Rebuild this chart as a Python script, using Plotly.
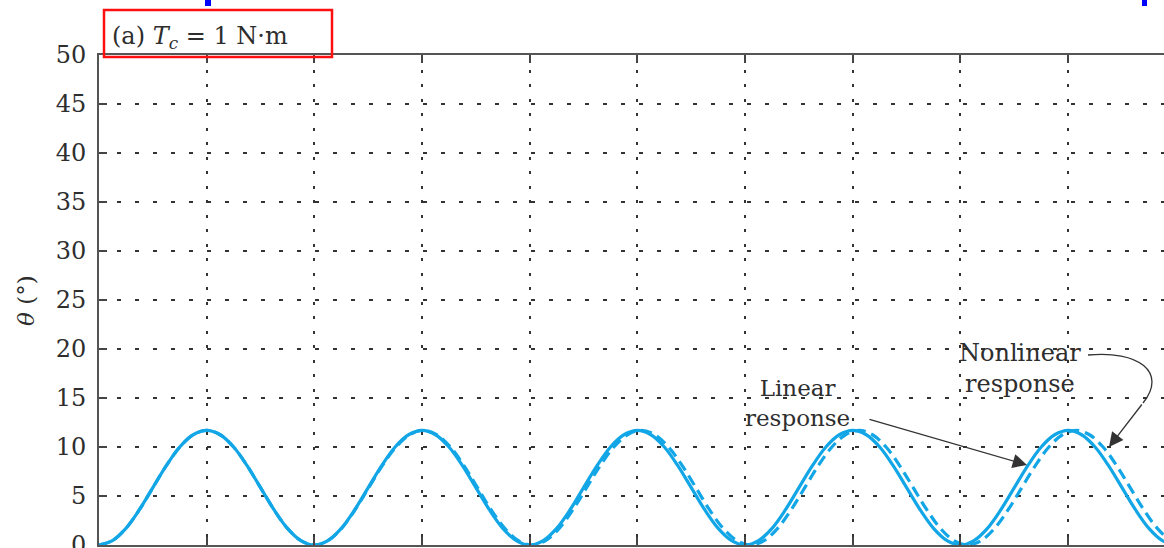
import plotly.graph_objects as go

# ---------------- data ----------------
time_linear = [0.0, 0.125, 0.25, 0.375, 0.5, 0.625, 0.75, 0.875,
               1.0, 1.125, 1.25, 1.375, 1.5, 1.625, 1.75, 1.875,
               2.0, 2.125, 2.25, 2.375, 2.5, 2.625, 2.75, 2.875,
               3.0, 3.125, 3.25, 3.375, 3.5, 3.625, 3.75, 3.875,
               4.0, 4.125, 4.25, 4.375, 4.5, 4.625, 4.75, 4.875,
               5.0, 5.125, 5.25, 5.375, 5.5, 5.625, 5.75, 5.875,
               6.0, 6.125, 6.25, 6.375, 6.5, 6.625, 6.75, 6.875,
               7.0, 7.125, 7.25, 7.375, 7.5, 7.625, 7.75, 7.875,
               8.0, 8.125, 8.25, 8.375, 8.5, 8.625, 8.75, 8.875,
               9.0, 9.125, 9.25, 9.375, 9.5, 9.625, 9.75, 9.875, 10.0]
theta_linear = [0.0, 0.45, 1.7, 3.6, 5.85, 8.1, 10.0, 11.25,
                11.7, 11.25, 10.0, 8.1, 5.85, 3.6, 1.7, 0.45,
                0.0, 0.45, 1.7, 3.6, 5.85, 8.1, 10.0, 11.25,
                11.7, 11.25, 10.0, 8.1, 5.85, 3.6, 1.7, 0.45,
                0.0, 0.45, 1.7, 3.6, 5.85, 8.1, 10.0, 11.25,
                11.7, 11.25, 10.0, 8.1, 5.85, 3.6, 1.7, 0.45,
                0.0, 0.45, 1.7, 3.6, 5.85, 8.1, 10.0, 11.25,
                11.7, 11.25, 10.0, 8.1, 5.85, 3.6, 1.7, 0.45,
                0.0, 0.45, 1.7, 3.6, 5.85, 8.1, 10.0, 11.25,
                11.7, 11.25, 10.0, 8.1, 5.85, 3.6, 1.7, 0.45, 0.0]

time_nonlinear = [0.0, 0.125, 0.25, 0.375, 0.5, 0.625, 0.75, 0.875,
                  1.0, 1.125, 1.25, 1.375, 1.5, 1.625, 1.75, 1.875,
                  2.0, 2.126, 2.253, 2.379, 2.505, 2.631, 2.758, 2.884,
                  3.01, 3.136, 3.263, 3.389, 3.515, 3.641, 3.768, 3.894,
                  4.02, 4.147, 4.274, 4.401, 4.528, 4.654, 4.781, 4.908,
                  5.035, 5.162, 5.289, 5.416, 5.543, 5.669, 5.796, 5.923,
                  6.05, 6.176, 6.302, 6.428, 6.554, 6.68, 6.806, 6.932,
                  7.058, 7.183, 7.309, 7.435, 7.561, 7.687, 7.813, 7.939,
                  8.065, 8.191, 8.317, 8.443, 8.569, 8.695, 8.821, 8.947,
                  9.073, 9.198, 9.324, 9.45, 9.576, 9.702, 9.828, 9.954, 10.08]
theta_nonlinear = [0.0, 0.45, 1.7, 3.6, 5.85, 8.1, 10.0, 11.25,
                   11.7, 11.25, 10.0, 8.1, 5.85, 3.6, 1.7, 0.45,
                   0.0, 0.45, 1.7, 3.6, 5.85, 8.1, 10.0, 11.25,
                   11.7, 11.25, 10.0, 8.1, 5.85, 3.6, 1.7, 0.45,
                   0.0, 0.45, 1.7, 3.6, 5.85, 8.1, 10.0, 11.25,
                   11.7, 11.25, 10.0, 8.1, 5.85, 3.6, 1.7, 0.45,
                   0.0, 0.45, 1.7, 3.6, 5.85, 8.1, 10.0, 11.25,
                   11.7, 11.25, 10.0, 8.1, 5.85, 3.6, 1.7, 0.45,
                   0.0, 0.45, 1.7, 3.6, 5.85, 8.1, 10.0, 11.25,
                   11.7, 11.25, 10.0, 8.1, 5.85, 3.6, 1.7, 0.45, 0.0]

y_ticks = [0, 5, 10, 15, 20, 25, 30, 35, 40, 45, 50]
x_ticks = [1, 2, 3, 4, 5, 6, 7, 8, 9]

# ---------------- layout constants ----------------
W, H = 1164, 548
L, T, R, B = 99, 55, 0, 3
PW, PH = W - L - R, H - T - B
X_MAX = 9.89

CURVE = "#12a6e6"
SERIF = "DejaVu Serif, Liberation Serif, serif"
TXT = "#2e2e2e"


def px(x):
    return (x - L) / PW


def py(y):
    return (H - B - y) / PH


fig = go.Figure()
fig.add_trace(go.Scatter(x=time_linear, y=theta_linear, mode="lines",
                         line=dict(color=CURVE, width=3.2, shape="spline", smoothing=1.0),
                         name="Linear response", showlegend=False))
fig.add_trace(go.Scatter(x=time_nonlinear, y=theta_nonlinear, mode="lines",
                         line=dict(color=CURVE, width=3.2, dash="11px,6px",
                                   shape="spline", smoothing=1.0),
                         name="Nonlinear response", showlegend=False))

fig.update_layout(
    width=W, height=H,
    margin=dict(l=L, r=R, t=T, b=B, pad=0, autoexpand=False),
    paper_bgcolor="white", plot_bgcolor="white",
    font=dict(family=SERIF, color=TXT),
    showlegend=False,
    xaxis=dict(range=[0, X_MAX], tickvals=x_ticks, showticklabels=False,
               automargin=False,
               ticks="inside", ticklen=8, tickwidth=1.6, tickcolor="#444",
               showline=True, linecolor="#555", linewidth=2, mirror="ticks",
               showgrid=True, gridcolor="#333", gridwidth=1.5, griddash="3px,11.5px",
               zeroline=False),
    yaxis=dict(range=[0, 50], tickvals=y_ticks, ticks="inside", ticklen=8,
               automargin=False,
               tickwidth=1.6, tickcolor="#444",
               tickfont=dict(family=SERIF, size=24, color=TXT),
               ticklabelstandoff=6, ticklabeloverflow="allow",
               showline=True, linecolor="#555", linewidth=2, mirror=False,
               showgrid=True, gridcolor="#333", gridwidth=1.5, griddash="4px,14px",
               zeroline=False),
)

shapes = []
# red title box
shapes.append(dict(type="rect", xref="paper", yref="paper",
                   x0=px(104), x1=px(332), y0=py(57), y1=py(10),
                   line=dict(color="#ff1010", width=2.5), fillcolor="rgba(0,0,0,0)"))
# blue marks at the top edge
for x0, x1 in [(205, 211), (1142, 1147)]:
    shapes.append(dict(type="rect", xref="paper", yref="paper",
                       x0=px(x0), x1=px(x1), y0=py(6), y1=py(-2),
                       line=dict(width=0), fillcolor="#0000ff"))
# curved part of the nonlinear arrow
p0 = (px(1088), py(355))
c1 = (px(1138), py(350))
c2 = (px(1168), py(372))
p3 = (px(1143), py(403))
shapes.append(dict(type="path", xref="paper", yref="paper",
                   path=f"M {p0[0]},{p0[1]} C {c1[0]},{c1[1]} {c2[0]},{c2[1]} {p3[0]},{p3[1]}",
                   line=dict(color="#333", width=1.3)))
fig.update_layout(shapes=shapes)

ann = []
ann.append(dict(xref="paper", yref="paper", x=px(110), y=py(37), xanchor="left",
                yanchor="middle", showarrow=False,
                text="(a) <i>T</i><sub><i>c</i></sub> = 1 N·m",
                font=dict(family=SERIF, size=24, color=TXT)))
ann.append(dict(xref="paper", yref="paper", x=px(26), y=py(301), textangle=-90,
                xanchor="center", yanchor="middle", showarrow=False,
                text="<i>θ</i> (°)", font=dict(family=SERIF, size=23, color=TXT)))
ann.append(dict(xref="paper", yref="paper", x=px(797), y=py(403),
                xanchor="center", yanchor="middle", showarrow=False,
                text="Linear<br>response", font=dict(family=SERIF, size=23, color=TXT)))
ann.append(dict(xref="paper", yref="paper", x=px(1020), y=py(368),
                xanchor="center", yanchor="middle", showarrow=False,
                text="Nonlinear<br>response", font=dict(family=SERIF, size=24, color=TXT)))
# arrows
ann.append(dict(xref="paper", yref="paper", x=px(1027), y=py(465), ax=868 - 1027, ay=419 - 465,
                text="", showarrow=True, arrowhead=2, arrowsize=2.2, arrowwidth=1.3,
                arrowcolor="#333", standoff=0))
ann.append(dict(xref="paper", yref="paper", x=px(1109), y=py(447), ax=1143 - 1109, ay=403 - 447,
                text="", showarrow=True, arrowhead=2, arrowsize=2.2, arrowwidth=1.3,
                arrowcolor="#333", standoff=0))
fig.update_layout(annotations=ann)

fig.write_html("out.html", config={"displayModeBar": False},
               post_script="document.body.style.margin='0px';document.body.style.overflow='hidden';")
